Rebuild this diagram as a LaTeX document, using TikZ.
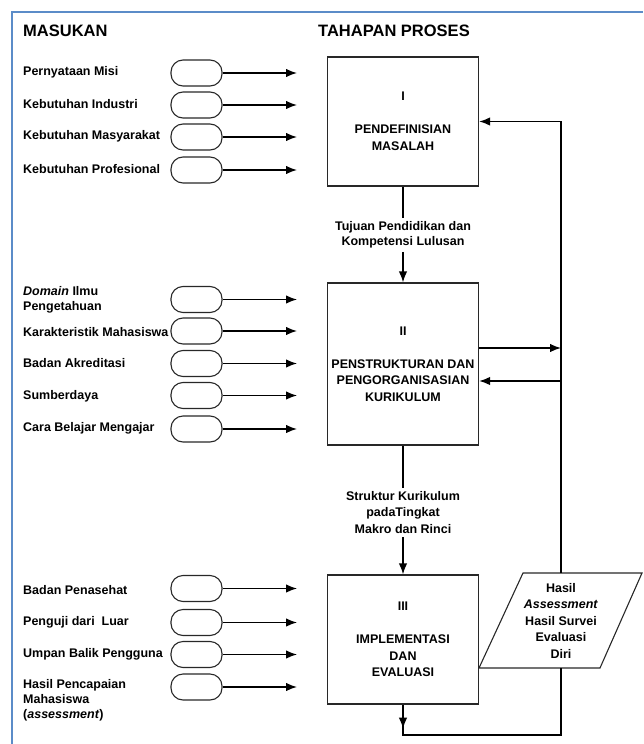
\documentclass[tikz,border=0pt]{standalone}
\usepackage{fontspec}
\setmainfont{Liberation Sans}
\usetikzlibrary{arrows.meta}

\definecolor{bingkai}{RGB}{91,140,200}
\definecolor{garis}{RGB}{40,40,40}

\begin{document}
\begin{tikzpicture}[x=1pt, y=-1pt, >={Latex[length=11pt,width=8.5pt]},
    font=\bfseries\fontsize{12.5}{15}\selectfont,
    proses/.style={draw=garis, line width=1.3pt, minimum width=151pt, align=center,
        font=\bfseries\fontsize{12.5}{16.5}\selectfont},
    masuk/.style={draw=garis, line width=1.1pt, rounded corners=12pt, minimum width=51pt, minimum height=26pt},
    ket/.style={anchor=west, align=left, inner sep=0pt},
    panah/.style={->, line width=1.4pt}]
    \useasboundingbox (0,0) rectangle (643,744);
    \draw[bingkai, line width=2pt] (12,744) -- (12,12) -- (643,12);

    \coordinate (a01) at (403,121.5);
    \coordinate (a02) at (403,364);
    \coordinate (a03) at (403,639.5);
    \coordinate (a04) at (561,620.5);

    \coordinate (l01) at (403,235);
    \coordinate (l02) at (403,512.5);

    \coordinate (f01) at (561,573);
    \coordinate (f02) at (561,348);
    \coordinate (f03) at (561,381);
    \coordinate (f04) at (403,735);
    \coordinate (f05) at (561,668);
    \coordinate (x01) at (297,0);

    % tahapan proses
    \node[proses, minimum height=129pt] (p1) at (a01) {I\\[\baselineskip]PENDEFINISIAN\\MASALAH};
    \node[proses, minimum height=162pt] (p2) at (a02) {II\\[\baselineskip]PENSTRUKTURAN DAN\\PENGORGANISASIAN\\KURIKULUM};
    \node[proses, minimum height=129pt] (p3) at (a03) {III\\[\baselineskip]IMPLEMENTASI\\DAN\\EVALUASI};

    \draw[draw=garis, line width=1.1pt] (479,668) -- (523,573) -- (642,573) -- (600,668) -- cycle;
    \node[align=center, font=\bfseries\fontsize{12.5}{16.5}\selectfont] (hasil) at (a04) {Hasil\\\textit{Assessment}\\Hasil Survei\\Evaluasi\\Diri};

    \node[align=center] (t1) at (l01) {Tujuan Pendidikan dan\\Kompetensi Lulusan};
    \node[align=center, font=\bfseries\fontsize{12.5}{16.5}\selectfont] (t2) at (l02) {Struktur Kurikulum\\padaTingkat\\Makro dan Rinci};

    \draw[line width=1.4pt] (p1) -- (t1);
    \draw[panah] (t1) -- (p2);
    \draw[line width=1.4pt] (p2) -- (t2);
    \draw[panah] (t2) -- (p3);

    \draw[panah] (f01) |- (p1.east);
    \draw[panah] (f02 -| p2.east) -- (f02);
    \draw[panah] (f03) -- (f03 -| p2.east);
    \draw[line width=1.4pt] (p3.south) -- (f04) -| (f05);
    \draw[panah] (p3.south) -- ++(0,24);

    % masukan
    \node[anchor=west, inner sep=0pt, font=\bfseries\fontsize{16.5}{18}\selectfont] (h1) at (23,31) {MASUKAN};
    \node[anchor=west, inner sep=0pt, font=\bfseries\fontsize{16.5}{18}\selectfont] (h2) at (318,31) {TAHAPAN PROSES};

    \node[masuk] (m01) at (196.5,73) {};
    \node[masuk] (m02) at (196.5,105) {};
    \node[masuk] (m03) at (196.5,137) {};
    \node[masuk] (m04) at (196.5,170) {};
    \node[masuk] (m05) at (196.5,299.5) {};
    \node[masuk] (m06) at (196.5,331) {};
    \node[masuk] (m07) at (196.5,363.5) {};
    \node[masuk] (m08) at (196.5,395.5) {};
    \node[masuk] (m09) at (196.5,429) {};
    \node[masuk] (m10) at (196.5,588.5) {};
    \node[masuk] (m11) at (196.5,622.5) {};
    \node[masuk] (m12) at (196.5,654.5) {};
    \node[masuk] (m13) at (196.5,687) {};

    \node[ket] (k01) at (23,72) {Pernyataan Misi};
    \node[ket] (k02) at (23,104) {Kebutuhan Industri};
    \node[ket] (k03) at (23,136) {Kebutuhan Masyarakat};
    \node[ket] (k04) at (23,169) {Kebutuhan Profesional};
    \node[ket] (k05) at (23,299.5) {\textit{Domain} Ilmu\\Pengetahuan};
    \node[ket] (k06) at (23,332) {Karakteristik Mahasiswa};
    \node[ket] (k07) at (23,363) {Badan Akreditasi};
    \node[ket] (k08) at (23,396) {Sumberdaya};
    \node[ket] (k09) at (23,428) {Cara Belajar Mengajar};
    \node[ket] (k10) at (23,590) {Badan Penasehat};
    \node[ket] (k11) at (23,622) {Penguji dari~ Luar};
    \node[ket] (k12) at (23,654) {Umpan Balik Pengguna};
    \node[ket] (k13) at (23,700) {Hasil Pencapaian\\Mahasiswa\\(\textit{assessment})};

    \draw[panah] (m01.east) -- (m01 -| x01);
    \draw[panah] (m02.east) -- (m02 -| x01);
    \draw[panah] (m03.east) -- (m03 -| x01);
    \draw[panah] (m04.east) -- (m04 -| x01);
    \draw[panah] (m05.east) -- (m05 -| x01);
    \draw[panah] (m06.east) -- (m06 -| x01);
    \draw[panah] (m07.east) -- (m07 -| x01);
    \draw[panah] (m08.east) -- (m08 -| x01);
    \draw[panah] (m09.east) -- (m09 -| x01);
    \draw[panah] (m10.east) -- (m10 -| x01);
    \draw[panah] (m11.east) -- (m11 -| x01);
    \draw[panah] (m12.east) -- (m12 -| x01);
    \draw[panah] (m13.east) -- (m13 -| x01);

\end{tikzpicture}
\end{document}
